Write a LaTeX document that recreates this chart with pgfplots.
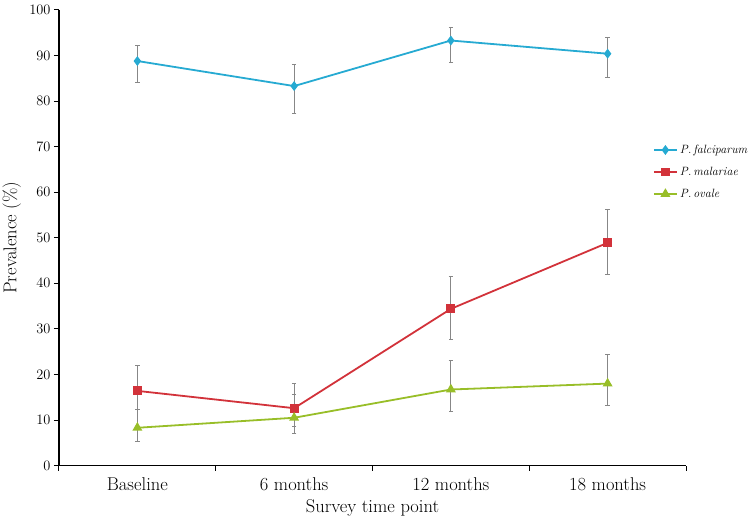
\documentclass[border=0pt]{standalone}
\usepackage{pgfplots}
\pgfplotsset{compat=1.18}
\definecolor{cblue}{RGB}{38,170,210}
\definecolor{cred}{RGB}{210,50,58}
\definecolor{cgreen}{RGB}{152,190,40}
\definecolor{cerr}{RGB}{135,135,135}
\begin{document}
\begin{tikzpicture}
\begin{axis}[
  at={(0,0)}, anchor=south west,
  scale only axis,
  width=627pt, height=455.6pt,
  xmin=-0.5, xmax=3.5, ymin=0, ymax=100,
  axis lines=left,
  axis line style={line width=1.2pt, -},
  xtick={0,1,2,3},
  xticklabels={Baseline,6 months,12 months,18 months},
  minor xtick={-0.5,0.5,1.5,2.5,3.5},
  major x tick style={draw=none},
  minor tick length=5pt,
  ytick={0,10,...,100},
  major tick length=5pt,
  tick align=outside,
  tick style={line width=1pt, black},
  yticklabel style={font=\fontsize{15.5}{18}\selectfont},
  xticklabel style={font=\fontsize{18.5}{22}\selectfont, anchor=base, yshift=-20pt},
  xlabel={Survey time point},
  ylabel={Prevalence (\%)},
  label style={font=\fontsize{18.5}{22}\selectfont},
  xlabel style={at={(axis description cs:0.5,0)}, anchor=base, yshift=-47.4pt},
  ylabel style={at={(axis description cs:-0.0678,0.5)}, anchor=base},
  legend style={at={(0.9474,0.6444)}, anchor=west, draw=none, fill=none,
    font=\fontsize{12}{14}\selectfont\itshape, row sep=9pt, column sep=2pt,
    inner sep=0pt, outer sep=0pt,
    nodes={inner sep=0pt, text height=10pt, text depth=3pt}},
  legend cell align=left,
  legend image code/.code={\draw[#1, mark repeat=2, mark phase=2] plot coordinates {(0pt,0pt) (11.5pt,0pt) (23pt,0pt)};},
  error bars/y dir=both,
  error bars/y explicit,
  error bars/error mark=-,
  error bars/error mark options={cerr, rotate=90, mark size=2.2pt, line width=0.8pt},
  error bars/error bar style={cerr, line width=0.9pt},
  clip=false,
]
\addplot[cblue, line width=1.8pt, mark=diamond*, mark size=3.5pt, mark options={fill=cblue, draw=cblue}]
  coordinates {
  (0,88.8) += (0,3.5) -= (0,4.8)
  (1,83.3) += (0,4.8) -= (0,5.9)
  (2,93.3) += (0,2.8) -= (0,4.8)
  (3,90.4) += (0,3.5) -= (0,5.2)
  };
\addlegendentry{P.\,falciparum}
\addplot[cred, line width=1.8pt, mark=square*, mark size=3.5pt, mark options={fill=cred, draw=cred}]
  coordinates {
  (0,16.4) += (0,5.5) -= (0,4.0)
  (1,12.6) += (0,5.5) -= (0,3.9)
  (2,34.4) += (0,7.2) -= (0,6.7)
  (3,48.9) += (0,7.4) -= (0,7.0)
  };
\addlegendentry{P.\,malariae}
\addplot[cgreen, line width=1.8pt, mark=triangle*, mark size=4pt, mark options={fill=cgreen, draw=cgreen}]
  coordinates {
  (0,8.3) += (0,4.1) -= (0,2.9)
  (1,10.5) += (0,5.2) -= (0,3.4)
  (2,16.7) += (0,6.3) -= (0,4.8)
  (3,18.0) += (0,6.3) -= (0,4.7)
  };
\addlegendentry{P.\,ovale}
\end{axis}
\pgfresetboundingbox
\path[use as bounding box] (-59pt,-52.4pt) rectangle (695pt,465.6pt);
\end{tikzpicture}
\end{document}
